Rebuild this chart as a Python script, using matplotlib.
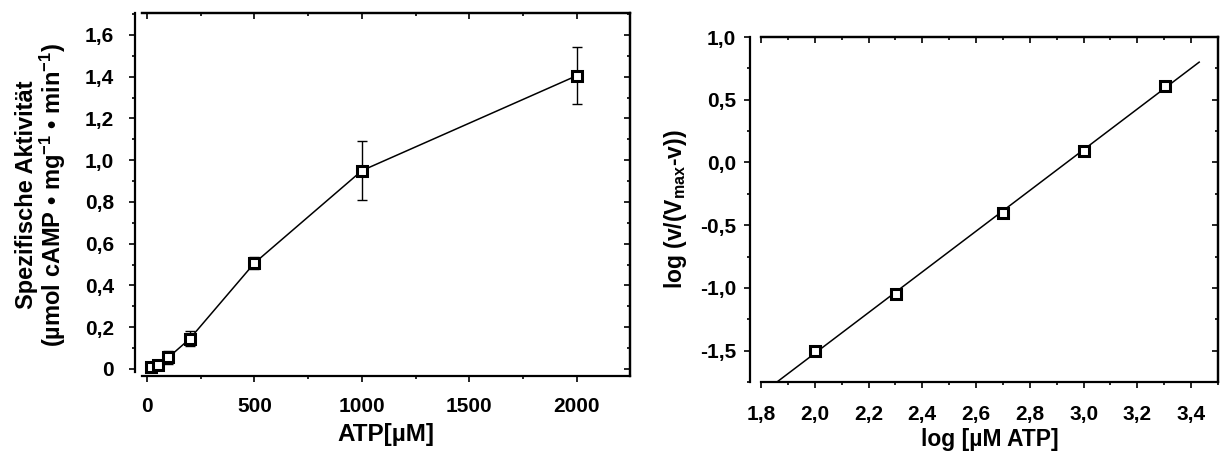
import numpy as np
import matplotlib
matplotlib.use("Agg")
import matplotlib.pyplot as plt
from matplotlib.ticker import MultipleLocator, FuncFormatter, NullFormatter

plt.rcParams['font.family'] = ['Liberation Sans', 'DejaVu Sans']
plt.rcParams['font.weight'] = 'bold'
plt.rcParams['mathtext.fontset'] = 'custom'
plt.rcParams['mathtext.rm'] = 'Liberation Sans:bold'
plt.rcParams['mathtext.bf'] = 'Liberation Sans:bold'
plt.rcParams['mathtext.it'] = 'Liberation Sans:bold'
plt.rcParams['mathtext.default'] = 'rm'

# Substrate saturation: specific activity vs. ATP concentration
atp_um = [20, 50, 100, 200, 500, 1000, 2000]
activity = [0.007, 0.018, 0.055, 0.145, 0.507, 0.950, 1.405]
activity_err = [0.010, 0.012, 0.030, 0.035, 0.028, 0.140, 0.135]

# Hill plot
log_atp = [2.0, 2.301, 2.699, 3.0, 3.301]
log_ratio = [-1.50, -1.05, -0.40, 0.09, 0.61]

x_ticks_left = [0, 500, 1000, 1500, 2000]
y_ticks_left = [0, 0.2, 0.4, 0.6, 0.8, 1.0, 1.2, 1.4, 1.6]
x_ticks_right = [1.8, 2.0, 2.2, 2.4, 2.6, 2.8, 3.0, 3.2, 3.4]
y_ticks_right = [-1.5, -1.0, -0.5, 0.0, 0.5, 1.0]

W, H = 1221, 457
fig = plt.figure(figsize=(W / 100, H / 100), dpi=100)

TICK_FS = 15
LABEL_FS = 16.5
MS, MEW = 7.2, 2.2


def comma(fmt):
    return FuncFormatter(lambda v, p: (fmt.format(v)).replace('.', ','))


def style_axes(ax, left_offset, ypad, xpad, xminor, yminor):
    for s in ax.spines.values():
        s.set_linewidth(1.6)
    ax.spines['left'].set_position(('outward', left_offset))
    ax.tick_params(which='both', direction='out', width=1.2, labelsize=TICK_FS)
    ax.tick_params(axis='y', pad=ypad)
    ax.tick_params(axis='x', pad=xpad)
    ax.tick_params(which='major', length=4.5)
    ax.tick_params(which='minor', length=2.5)
    for lab in ax.get_xticklabels() + ax.get_yticklabels():
        lab.set_fontweight('bold')
    # mirrored inward ticks on the top and right edges
    top = ax.secondary_xaxis('top')
    top.set_xticks(ax.get_xticks())
    top.xaxis.set_minor_locator(MultipleLocator(xminor))
    top.xaxis.set_major_formatter(NullFormatter())
    top.tick_params(which='both', direction='in', width=1.2)
    top.tick_params(which='major', length=4.5)
    top.tick_params(which='minor', length=2.5)
    top.spines['top'].set_linewidth(1.6)
    right = ax.secondary_yaxis('right')
    right.set_yticks(ax.get_yticks())
    right.yaxis.set_minor_locator(MultipleLocator(yminor))
    right.yaxis.set_major_formatter(NullFormatter())
    right.tick_params(which='both', direction='in', width=1.2)
    right.tick_params(which='major', length=4.5)
    right.tick_params(which='minor', length=2.5)
    right.spines['right'].set_linewidth(1.6)


# ---------------- left panel ----------------
ax1 = fig.add_axes([142 / W, 1 - 376 / H, 488 / W, 363 / H])
ax1.errorbar(atp_um, activity, yerr=activity_err, color='black', lw=1.1,
             elinewidth=1.0, capsize=3.8, capthick=1.0, zorder=2)
ax1.plot(atp_um, activity, linestyle='none', marker='s', markersize=MS,
         markerfacecolor='white', markeredgecolor='black',
         markeredgewidth=MEW, zorder=3)
ax1.set_xlim(-23, 2247)
ax1.set_ylim(-0.034, 1.705)
ax1.set_xticks(x_ticks_left)
ax1.set_yticks(y_ticks_left)
ax1.xaxis.set_minor_locator(MultipleLocator(250))
ax1.yaxis.set_minor_locator(MultipleLocator(0.1))
ax1.xaxis.set_major_formatter(comma('{:.0f}'))
ax1.yaxis.set_major_formatter(FuncFormatter(
    lambda v, p: '0' if abs(v) < 1e-9 else ('{:.1f}'.format(v)).replace('.', ',')))
style_axes(ax1, 5, 10.5, 10.5, 250, 0.1)
ax1.spines['left'].set_bounds(-0.015, 1.705)
ax1.set_xlabel('ATP[µM]', fontsize=LABEL_FS + 1, fontweight='bold', labelpad=5)
ax1.set_ylabel('Spezifische Aktivität\n(µmol cAMP • mg$^{-1}$ • min$^{-1}$)',
               fontsize=LABEL_FS + 0.5, fontweight='bold', labelpad=12,
               linespacing=1.0)

# ---------------- right panel ----------------
ax2 = fig.add_axes([761 / W, 1 - 382 / H, 457 / W, 345 / H])
slope, intercept = np.polyfit(log_atp, log_ratio, 1)
fit_x = np.array([1.85, 3.43])
ax2.plot(fit_x, slope * fit_x + intercept, color='black', lw=1.1, zorder=2)
ax2.plot(log_atp, log_ratio, linestyle='none', marker='s', markersize=MS,
         markerfacecolor='white', markeredgecolor='black', markeredgewidth=MEW,
         zorder=3)
ax2.set_xlim(1.8, 3.5)
ax2.set_ylim(-1.75, 1.0)
ax2.set_xticks(x_ticks_right)
ax2.set_yticks(y_ticks_right)
ax2.xaxis.set_minor_locator(MultipleLocator(0.1))
ax2.yaxis.set_minor_locator(MultipleLocator(0.25))
ax2.xaxis.set_major_formatter(comma('{:.1f}'))
ax2.yaxis.set_major_formatter(comma('{:.1f}'))
style_axes(ax2, 8, 5.5, 12, 0.1, 0.25)
ax2.set_xlabel('log [µM ATP]', fontsize=LABEL_FS, fontweight='bold', labelpad=3)
ax2.set_ylabel('log (v/(V$_{max}$-v))', fontsize=LABEL_FS, fontweight='bold',
               labelpad=8)

fig.savefig('out.png', dpi=100)
